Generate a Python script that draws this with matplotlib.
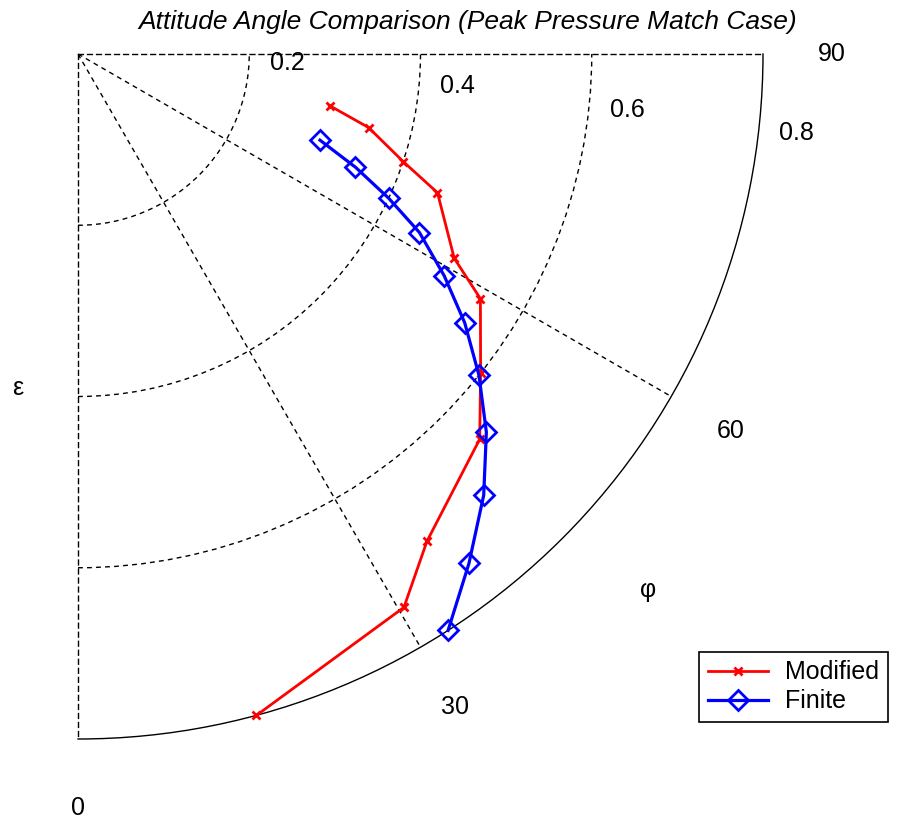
import numpy as np
import matplotlib
matplotlib.use("Agg")
import matplotlib.pyplot as plt
from matplotlib.transforms import offset_copy

plt.rcParams['font.family'] = ['Liberation Sans', 'DejaVu Sans']

# Eccentricity (radius) and attitude angle (degrees) for both models
modified_eps = [0.30, 0.35, 0.40, 0.45, 0.50, 0.55, 0.60, 0.65, 0.70, 0.75, 0.80]
modified_phi = [78.4, 75.8, 71.7, 68.9, 61.5, 58.7, 51.6, 46.2, 35.6, 30.5, 15.1]

finite_eps = [0.30, 0.35, 0.40, 0.45, 0.50, 0.55, 0.60, 0.65, 0.70, 0.75, 0.80]
finite_phi = [70.4, 67.8, 65.1, 62.4, 58.8, 55.2, 51.3, 47.2, 42.6, 37.5, 32.7]

r_ticks = [0.2, 0.4, 0.6, 0.8]
theta_ticks = [0, 30, 60, 90]
r_max = 0.8

W, H = 899, 825
fs = 18
fig = plt.figure(figsize=(W / 100, H / 100), dpi=100)
ax = fig.add_axes([78 / W, 85 / H, 685 / W, 687 / H], projection='polar')
ax.set_theta_zero_location('S')
ax.set_theta_direction(1)
ax.set_thetamin(0)
ax.set_thetamax(90)
ax.set_rlim(0, r_max)

dash = (0, (3.5, 3))
ax.set_rgrids(r_ticks[:-1], labels=[''] * (len(r_ticks) - 1))
ax.set_thetagrids(theta_ticks[1:-1], labels=[''] * (len(theta_ticks) - 2))
ax.grid(True, color='black', linestyle=dash, linewidth=1.0)
ax.tick_params(length=0)

ax.spines['polar'].set_color('black')
ax.spines['polar'].set_linewidth(1.0)
for side in ('start', 'end'):
    ax.spines[side].set_color('black')
    ax.spines[side].set_linestyle(dash)
    ax.spines[side].set_linewidth(1.0)
ax.spines['inner'].set_visible(False)

ax.plot(np.deg2rad(modified_phi), modified_eps, color='#ff0000', lw=2.0,
        marker='x', markersize=6, markeredgewidth=2, label='Modified',
        clip_on=False, zorder=5)
ax.plot(np.deg2rad(finite_phi), finite_eps, color='#0000ff', lw=2.3,
        marker='D', markersize=10, markeredgewidth=2, markerfacecolor='none',
        label='Finite', clip_on=False, zorder=6)

# Radial tick labels along a ray near 82 degrees, nudged outward
rlab_tr = offset_copy(ax.transData, fig=fig, x=40, y=14, units='dots')
for rv in r_ticks:
    ax.text(np.deg2rad(82.2), rv, f'{rv:g}', transform=rlab_tr,
            ha='center', va='center', fontsize=fs, clip_on=False)

# Angular labels outside the outer arc
for tv in theta_ticks:
    ax.text(np.deg2rad(tv), 1.1 * r_max, f'{tv:d}', ha='center', va='center',
            fontsize=fs, clip_on=False)

fig.text(18 / W, 1 - 388 / H, 'ε', ha='center', va='center', fontsize=fs)
fig.text(648 / W, 1 - 590 / H, 'φ', ha='center', va='center', fontsize=fs)

fig.text(468 / W, 1 - 22 / H,
         'Attitude Angle Comparison (Peak Pressure Match Case)',
         ha='center', va='center', fontsize=19, style='italic')

leg = fig.legend(loc='lower right', bbox_to_anchor=(888 / W, 103 / H),
                 bbox_transform=fig.transFigure, borderaxespad=0,
                 fontsize=fs, fancybox=False, framealpha=1,
                 edgecolor='black', handlelength=2.4, labelspacing=0.2,
                 borderpad=0.35, handletextpad=0.7)
leg.get_frame().set_linewidth(1.2)

fig.savefig('out.png', dpi=100)
